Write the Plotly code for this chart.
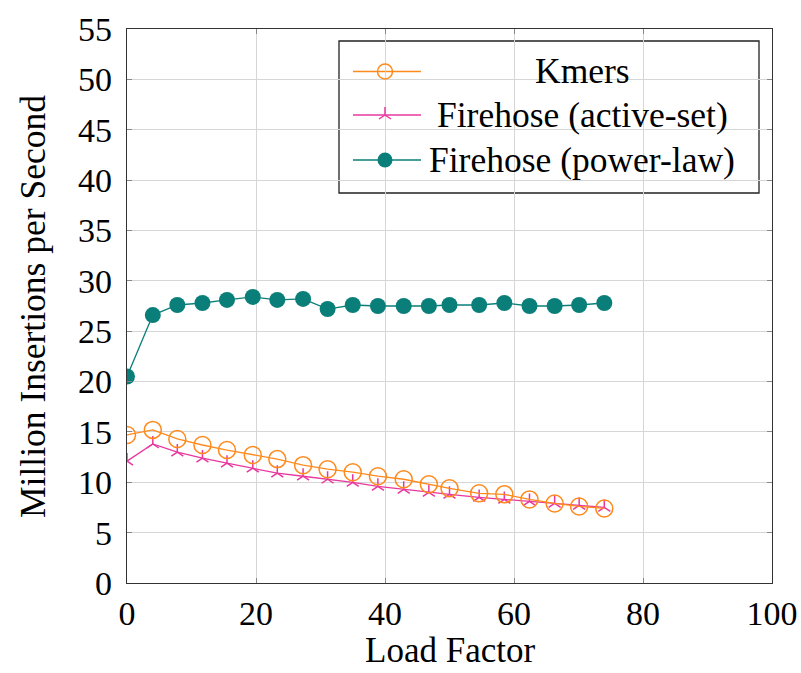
import plotly.graph_objects as go

# ---- data ----
load_factor = [0, 4, 7.8, 11.7, 15.5, 19.5, 23.3, 27.3, 31.1, 35.0, 38.9, 42.9, 46.8, 50.0, 54.6, 58.5, 62.4, 66.3, 70.1, 74.0]
kmers = [14.7, 15.2, 14.3, 13.7, 13.2, 12.7, 12.3, 11.7, 11.3, 11.0, 10.6, 10.3, 9.8, 9.4, 8.9, 8.8, 8.3, 7.9, 7.6, 7.4]
active_set = [12.1, 13.8, 13.0, 12.4, 11.9, 11.4, 10.9, 10.6, 10.3, 10.0, 9.6, 9.3, 9.0, 8.8, 8.5, 8.3, 8.1, 7.9, 7.7, 7.5]
power_law = [20.5, 26.6, 27.6, 27.8, 28.1, 28.4, 28.1, 28.2, 27.2, 27.6, 27.5, 27.5, 27.5, 27.6, 27.6, 27.8, 27.5, 27.5, 27.6, 27.8]

series_names = ["Kmers", "Firehose (active-set)", "Firehose (power-law)"]
x_title = "Load Factor"
y_title = "Million Insertions per Second"
x_ticks = [0, 20, 40, 60, 80, 100]
y_ticks = list(range(0, 56, 5))

ORANGE = "#ff8a1c"
MAGENTA = "#e8389e"
TEAL = "#0a7f7a"
FONT = "Liberation Serif, Times New Roman, DejaVu Serif, serif"
FS_TICK = 34
FS_TEXT = 35.5

W, H = 801, 673
L, R, T, B = 127, 29, 29, 90
PW, PH = W - L - R, H - T - B

fig = go.Figure()

fig.add_trace(go.Scatter(x=load_factor, y=power_law, mode="lines+markers",
                         line=dict(color=TEAL, width=1.3),
                         marker=dict(symbol="circle", size=16, color=TEAL),
                         showlegend=False))
fig.add_trace(go.Scatter(x=load_factor, y=active_set, mode="lines+markers",
                         line=dict(color=MAGENTA, width=1.3),
                         marker=dict(symbol="y-up", size=10, color=MAGENTA,
                                     line=dict(color=MAGENTA, width=1.5)),
                         showlegend=False))
fig.add_trace(go.Scatter(x=load_factor, y=kmers, mode="lines+markers",
                         line=dict(color=ORANGE, width=1.3),
                         marker=dict(symbol="circle-open", size=17, color=ORANGE,
                                     line=dict(color=ORANGE, width=1.5)),
                         showlegend=False))

# ---- manual legend (pixel positions converted to paper fractions) ----
def px2x(px):
    return (px - L) / PW

def py2y(py):
    return (T + PH - py) / PH

fig.add_shape(type="rect", xref="paper", yref="paper",
              x0=px2x(339), x1=px2x(759), y0=py2y(193), y1=py2y(41),
              line=dict(color="#222", width=1.3), fillcolor="white", layer="between")

rows = [71.5, 115, 160]
styles = [
    (ORANGE, dict(symbol="circle-open", size=15, color=ORANGE, line=dict(color=ORANGE, width=1.5))),
    (MAGENTA, dict(symbol="y-up", size=10, color=MAGENTA, line=dict(color=MAGENTA, width=1.5))),
    (TEAL, dict(symbol="circle", size=15, color=TEAL)),
]
for name, ry, (col, mk) in zip(series_names, rows, styles):
    fig.add_shape(type="line", xref="paper", yref="paper",
                  x0=px2x(353), x1=px2x(421), y0=py2y(ry), y1=py2y(ry),
                  line=dict(color=col, width=1.3), layer="between")
    fig.add_trace(go.Scatter(x=[px2x(385)], y=[py2y(ry)], mode="markers",
                             marker=mk, xaxis="x2", yaxis="y2",
                             showlegend=False, hoverinfo="skip"))
    fig.add_annotation(x=px2x(582), y=py2y(ry), xref="paper", yref="paper",
                       text=name, showarrow=False, xanchor="center", yanchor="middle",
                       font=dict(family=FONT, size=FS_TEXT, color="black"))

# ---- axis titles as annotations for exact placement ----
fig.add_annotation(x=0.5, y=py2y(650), xref="paper", yref="paper", text=x_title,
                   showarrow=False, xanchor="center", yanchor="middle",
                   font=dict(family=FONT, size=35, color="black"))
fig.add_annotation(x=px2x(33), y=py2y(307), xref="paper", yref="paper", text=y_title,
                   showarrow=False, xanchor="center", yanchor="middle", textangle=-90,
                   font=dict(family=FONT, size=FS_TEXT, color="black"))

fig.update_layout(
    width=W, height=H,
    margin=dict(l=L, r=R, t=T, b=B, autoexpand=False),
    paper_bgcolor="white", plot_bgcolor="white",
    font=dict(family=FONT, size=FS_TEXT, color="black"),
    xaxis=dict(range=[0, 100], tickvals=x_ticks, ticks="inside", ticklen=5,
               tickcolor="#888", showgrid=True, gridcolor="#d6d6d6", gridwidth=1,
               showline=True, linecolor="#333", linewidth=1.3, mirror="ticks",
               zeroline=False, automargin=False, ticklabelstandoff=0,
               tickfont=dict(family=FONT, size=FS_TICK)),
    yaxis=dict(range=[0, 55], tickvals=y_ticks, ticks="inside", ticklen=5,
               tickcolor="#888", showgrid=True, gridcolor="#d6d6d6", gridwidth=1,
               showline=True, linecolor="#333", linewidth=1.3, mirror="ticks",
               zeroline=False, automargin=False, ticklabelstandoff=7,
               tickfont=dict(family=FONT, size=FS_TICK)),
    xaxis2=dict(range=[0, 1], overlaying="x", visible=False, anchor="y2"),
    yaxis2=dict(range=[0, 1], overlaying="y", visible=False, anchor="x2"),
)

fig.write_html("out.html")
